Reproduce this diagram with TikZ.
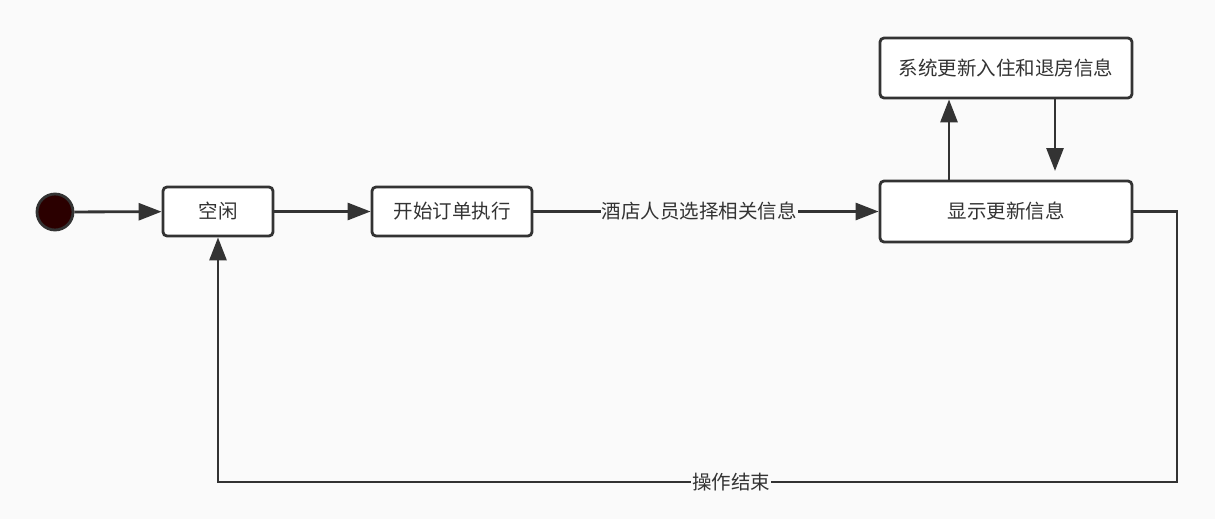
\documentclass[tikz,border=0pt]{standalone}
\usepackage{fontspec}
\setmainfont{Noto Sans CJK SC}
\usetikzlibrary{arrows.meta}
\definecolor{bg}{HTML}{FAFAFA}
\definecolor{ink}{HTML}{333333}
\definecolor{startfill}{HTML}{2B0000}
\begin{document}
\begin{tikzpicture}[x=1pt,y=-1pt,
  state/.style={draw=ink, line width=2.8pt, fill=white, rounded corners=4pt, font=\fontsize{19.5}{22}\selectfont, text=ink, inner sep=0pt},
  conn/.style={draw=ink, line width=2.8pt, -{Triangle[length=23pt,width=17pt]}},
  lab/.style={fill=bg, text=ink, font=\fontsize{19.5}{22}\selectfont, inner sep=1pt}]
\fill[bg] (0,0) rectangle (1215,519);
\useasboundingbox (0,0) rectangle (1215,519);
\node[circle, draw=ink, line width=2.8pt, fill=startfill, minimum size=36pt, inner sep=0pt] (start) at (55,212) {};
\node[state, minimum width=110pt, minimum height=49pt] (idle) at (218,211.5) {空闲};
\node[state, minimum width=160pt, minimum height=49pt] (begin) at (452,211.5) {开始订单执行};
\node[state, minimum width=252pt, minimum height=61pt] (show) at (1006,211.5) {显示更新信息};
\node[state, minimum width=252pt, minimum height=60pt] (sys) at (1006,68) {系统更新入住和退房信息};
\coordinate (downend) at (1055,171);
\coordinate (c1) at (1177,211.5);
\coordinate (c2) at (1177,482);
\coordinate (c3) at (218,482);
\draw[conn] (start) -- (idle);
\draw[conn] (idle) -- (begin);
\draw[conn] (begin) -- node[lab, pos=0.48] {酒店人员选择相关信息} (show);
\draw[conn] (show.north -| 949,0) -- (sys.south -| 949,0);
\draw[conn] (sys.south -| downend) -- (downend);
\draw[conn, rounded corners=0pt] (show.east) -- (c1) -- (c2) -- node[lab, pos=0.465] {操作结束} (c3) -- (idle.south);
\end{tikzpicture}
\end{document}
